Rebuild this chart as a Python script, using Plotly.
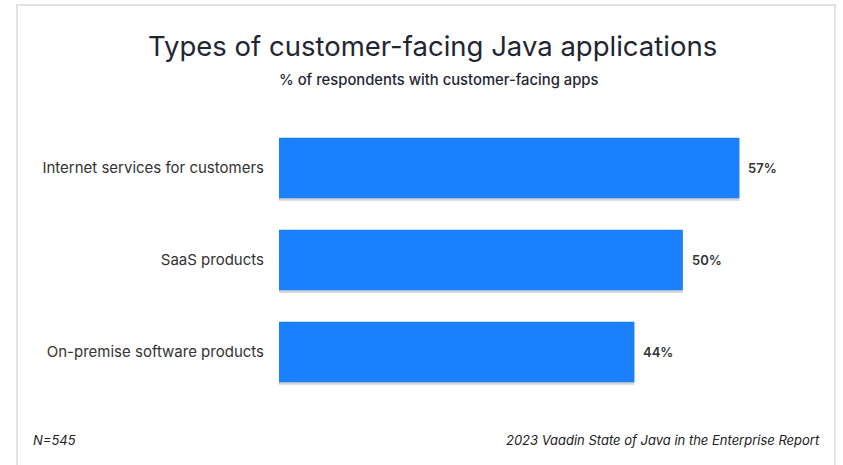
import plotly.graph_objects as go

# Survey data
categories = ["Internet services for customers", "SaaS products", "On-premise software products"]
values = [57, 50, 44]
value_labels = [f"{v}%" for v in values]

title_text = "Types of customer-facing Java applications"
subtitle_text = "% of respondents with customer-facing apps"
sample_note = "N=545"
source_note = "2023 Vaadin State of Java in the Enterprise Report"

W, H = 843, 465
L, R, T, B = 279, 39, 122, 67
plot_w = W - L - R
plot_h = H - T - B


def px_x(x):
    return (x - L) / plot_w


def px_y(y):
    return (H - B - y) / plot_h


bar_w = 0.66
fig = go.Figure()

# soft drop shadow under each bar
fig.add_trace(go.Bar(
    x=values, y=categories, orientation="h",
    width=bar_w, offset=-bar_w / 2 + 0.025,
    marker=dict(color="rgba(130,130,130,0.35)", line=dict(width=0)),
    hoverinfo="skip", showlegend=False,
))

fig.add_trace(go.Bar(
    x=values, y=categories, orientation="h",
    width=bar_w, offset=-bar_w / 2,
    marker=dict(color="#1a80fd", line=dict(width=0)),
    showlegend=False,
))

# value labels just right of each bar end
value_annotations = [
    dict(text=lab, x=v, y=c, xref="x", yref="y", xanchor="left", yanchor="middle",
         xshift=7, showarrow=False,
         font=dict(family="Inter", size=13, color="#333333", weight=600))
    for v, c, lab in zip(values, categories, value_labels)
]

fig.update_layout(
    width=W, height=H,
    margin=dict(l=L, r=R, t=T, b=B, pad=0),
    paper_bgcolor="white", plot_bgcolor="white",
    barmode="overlay",
    xaxis=dict(range=[0, 65], visible=False, fixedrange=True),
    yaxis=dict(
        autorange="reversed", showgrid=False, zeroline=False, showline=False,
        ticks="", ticklabelstandoff=14,
        tickfont=dict(family="Inter", size=15, color="#333333"),
    ),
    font=dict(family="Inter"),
    shapes=[
        dict(type="rect", xref="paper", yref="paper",
             x0=px_x(17), x1=px_x(835), y0=px_y(475), y1=px_y(5),
             line=dict(color="#e3e3e3", width=2), fillcolor="rgba(0,0,0,0)",
             layer="below"),
    ],
    annotations=[
        dict(text=title_text, xref="paper", yref="paper", x=px_x(432), y=px_y(46),
             xanchor="center", yanchor="middle", showarrow=False,
             font=dict(family="Inter", size=27.5, color="#1f2633", weight=400)),
        dict(text=subtitle_text, xref="paper", yref="paper", x=px_x(438), y=px_y(80),
             xanchor="center", yanchor="middle", showarrow=False,
             font=dict(family="Inter", size=14.8, color="#1f2633", weight=500)),
        dict(text=f"<i>{sample_note}</i>", xref="paper", yref="paper", x=px_x(31), y=px_y(440),
             xanchor="left", yanchor="middle", showarrow=False,
             font=dict(family="Inter", size=13, color="#222222")),
        dict(text=f"<i>{source_note}</i>", xref="paper", yref="paper", x=px_x(822), y=px_y(440),
             xanchor="right", yanchor="middle", showarrow=False,
             font=dict(family="Inter", size=13, color="#222222")),
    ] + value_annotations,
)

fig.write_html("out.html", config={"displayModeBar": False})
